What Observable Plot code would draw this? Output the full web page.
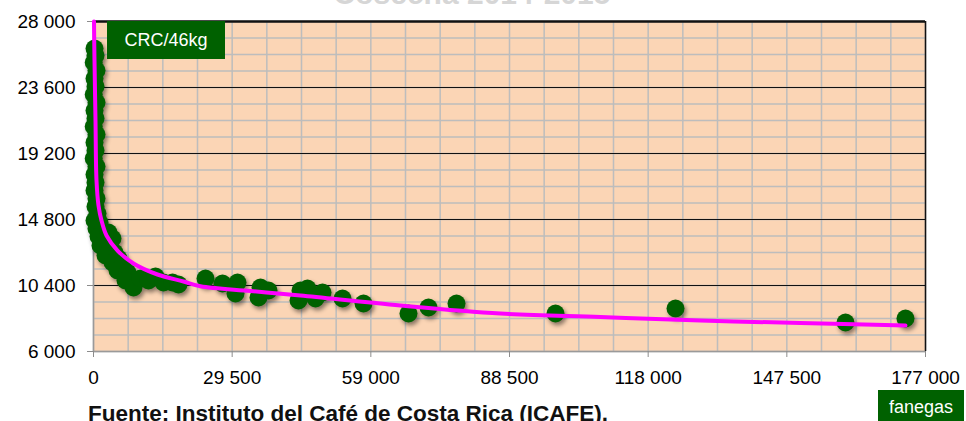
<!DOCTYPE html>
<html>
<head>
<meta charset="utf-8">
<script src="https://cdn.jsdelivr.net/npm/d3@7"></script>
<script src="https://cdn.jsdelivr.net/npm/@observablehq/plot@0.6"></script>
<style>
  html, body { margin: 0; padding: 0; background: #fff; }
  #wrap { position: relative; width: 966px; height: 421px; overflow: hidden; font-family: "Liberation Sans", Arial, sans-serif; }
  #chart { position: absolute; left: 0; top: 0; }
  #title { position: absolute; left: 0; width: 944px; top: -23px; text-align: center; font-weight: bold; font-size: 30px; color: #d6d6d6; white-space: nowrap; }
  .box { position: absolute; background: #006100; color: #fff; font-size: 18px; display: flex; align-items: center; justify-content: center; }
  #ylab { left: 107px; top: 21px; width: 118px; height: 38px; }
  #xlab { left: 878px; top: 390px; width: 86px; height: 34px; }
  #src { position: absolute; left: 88px; top: 401px; font-weight: bold; font-size: 22.5px; color: #111; white-space: nowrap; }
  svg g[aria-label="dot"] { filter: drop-shadow(2px 3px 2px rgba(0,0,0,0.45)); }
</style>
</head>
<body>
<div id="wrap">
  <div id="title">Cosecha 2014-2015</div>
  <div id="chart"></div>
  <div class="box" id="ylab">CRC/46kg</div>
  <div class="box" id="xlab">fanegas</div>
  <div id="src">Fuente: Instituto del Café de Costa Rica (ICAFE).</div>
</div>
<script>
// Axis ticks
const xTicks = [0, 29500, 59000, 88500, 118000, 147500, 177000];
const yTicks = [6000, 10400, 14800, 19200, 23600, 28000];

// Observations: volume (fanegas) and price (CRC/46kg)
const volFanegas = [213, 425, 50, 638, 213, 425, 50, 638, 213, 425, 50, 638, 213, 425, 50, 638, 213, 425, 213, 638, 425, 851, 213, 1276, 638, 1915, 1064, 3191, 2340, 4042, 1489, 3191, 4468, 2553, 5319, 4042, 6169, 5106, 7233, 6808, 8510, 9999, 11700, 13190, 14892, 16806, 18083, 23827, 27443, 30635, 30209, 35528, 35102, 37230, 44037, 43612, 45526, 48717, 47228, 52972, 57440, 67013, 71268, 77225, 98286, 123815, 159979, 172744];
const priceCRC = [26200, 25733, 25267, 24733, 24200, 23667, 23133, 22600, 22067, 21533, 21000, 20467, 19933, 19400, 18867, 18333, 17800, 17267, 16733, 16200, 15667, 15200, 14733, 14600, 14200, 14067, 13667, 13933, 13400, 13533, 13067, 12867, 12600, 12400, 12200, 11933, 11733, 11400, 11267, 10733, 10267, 10867, 10733, 11000, 10600, 10600, 10467, 10867, 10533, 10600, 9867, 10267, 9600, 10067, 10067, 9400, 10200, 9933, 9533, 9533, 9200, 8533, 8933, 9200, 8533, 8867, 7933, 8200];

// Trend line
const trendX = [106, 213, 425, 638, 1064, 1702, 2766, 5106, 8510, 13615, 19147, 22763, 33400, 44037, 65311, 86585, 107860, 129134, 150408, 172744];
const trendY = [28000, 25400, 21400, 17400, 15733, 14733, 13733, 12733, 11867, 11133, 10667, 10353, 10033, 9733, 9067, 8533, 8300, 8067, 7900, 7733];

const points = volFanegas.map((v, i) => ({x: v, y: priceCRC[i]}));
const trend = trendX.map((v, i) => ({x: v, y: trendY[i]}));

const minorX = d3.range(0, 177001, 7375);
const minorY = d3.range(6000, 28001, 1100);
const fmt = d => d3.format(",")(d).replace(/,/g, " ");

const chart = Plot.plot({
  width: 966,
  height: 395,
  marginLeft: 93,
  marginRight: 41,
  marginTop: 21,
  marginBottom: 44,
  style: {fontFamily: "Liberation Sans, Arial, sans-serif", fontSize: "19px", color: "#000", background: "transparent"},
  x: {domain: [0, 177000]},
  y: {domain: [6000, 28000]},
  marks: [
    Plot.frame({fill: "#FBD5B5", stroke: null}),
    Plot.ruleX(minorX, {stroke: "#bdbdbd", strokeWidth: 1.5}),
    Plot.ruleY(minorY, {stroke: "#bdbdbd", strokeWidth: 1.5}),
    Plot.ruleY(yTicks.slice(1), {stroke: "#111", strokeWidth: 1.2}),
    Plot.ruleY([28000], {stroke: "#111", strokeWidth: 2.5}),
    Plot.ruleX([177000], {stroke: "#111", strokeWidth: 1.5}),
    Plot.ruleX([0], {stroke: "#9a9a9a", strokeWidth: 1.5}),
    Plot.ruleY([6000], {stroke: "#9a9a9a", strokeWidth: 1.5}),
    Plot.axisX(xTicks, {tickFormat: fmt, tickSize: 6, tickPadding: 13, stroke: "#8c8c8c", fill: "#000", fontSize: 19, label: null}),
    Plot.axisY(yTicks, {tickFormat: fmt, tickSize: 6, tickPadding: 12, stroke: "#8c8c8c", fill: "#000", fontSize: 19, label: null}),
    Plot.dot(points, {x: "x", y: "y", r: 9, fill: "#006100", stroke: null}),
    Plot.line(trend, {x: "x", y: "y", stroke: "#ff00ff", strokeWidth: 4, curve: "catmull-rom"})
  ]
});
document.getElementById("chart").appendChild(chart);
</script>
</body>
</html>
